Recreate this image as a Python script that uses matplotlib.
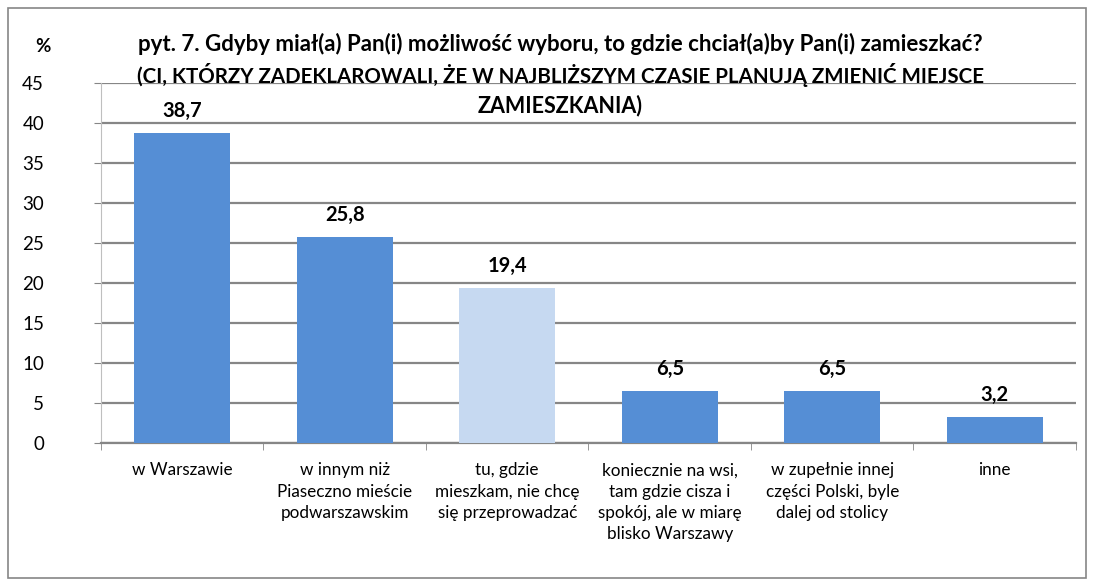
import numpy as np
import matplotlib.pyplot as plt
from matplotlib.patches import Rectangle

plt.rcParams['font.family'] = ['Lato', 'DejaVu Sans']

categories = ['w Warszawie',
              'w innym niż\nPiaseczno mieście\npodwarszawskim',
              'tu, gdzie\nmieszkam, nie chcę\nsię przeprowadzać',
              'koniecznie na wsi,\ntam gdzie cisza i\nspokój, ale w miarę\nblisko Warszawy',
              'w zupełnie innej\nczęści Polski, byle\ndalej od stolicy',
              'inne']
values = [38.7, 25.8, 19.4, 6.5, 6.5, 3.2]
value_labels = ['38,7', '25,8', '19,4', '6,5', '6,5', '3,2']
bar_colors = ['#558ED5', '#558ED5', '#C6D9F1', '#558ED5', '#558ED5', '#558ED5']
yticks = [0, 5, 10, 15, 20, 25, 30, 35, 40, 45]

title_lines = ['pyt. 7. Gdyby miał(a) Pan(i) możliwość wyboru, to gdzie chciał(a)by Pan(i) zamieszkać?',
               '(CI, KTÓRZY ZADEKLAROWALI, ŻE W NAJBLIŻSZYM CZASIE PLANUJĄ ZMIENIĆ MIEJSCE',
               'ZAMIESZKANIA)']
title_sizes = [16, 14.8, 15.5]

fig = plt.figure(figsize=(10.94, 5.82), dpi=100)
ax = fig.add_axes([0.0923, 0.2388, 0.8912, 0.6186])

x = np.arange(len(values))
ax.bar(x, values, width=0.59, color=bar_colors, zorder=3)
for xi, v, lab in zip(x, values, value_labels):
    ax.text(xi, v + 1.5, lab, ha='center', va='bottom', fontsize=14.5,
            fontweight='bold', zorder=4)

ax.set_xlim(-0.5, len(values) - 0.5)
ax.set_ylim(0, 45)
ax.set_yticks(yticks)
ax.set_yticklabels([str(t) for t in yticks], fontsize=13.5)
ax.yaxis.grid(True, color='#868686', linewidth=1.6, zorder=0)
ax.set_axisbelow(True)

# category labels under the bars, ticks at category boundaries
ax.set_xticks(x)
ax.set_xticklabels(categories, fontsize=12.3, linespacing=1.4, va='top')
ax.tick_params(axis='x', length=0, pad=14)
ax.set_xticks(np.arange(len(values) + 1) - 0.5, minor=True)
ax.tick_params(axis='x', which='minor', length=5, color='#868686')
ax.tick_params(axis='y', length=5, color='#868686', pad=36)

for s in ['top', 'right']:
    ax.spines[s].set_visible(False)
ax.spines['left'].set_color('#BFBFBF')
ax.spines['bottom'].set_color('#868686')
ax.spines['bottom'].set_linewidth(1.6)

for i, (line, size) in enumerate(zip(title_lines, title_sizes)):
    fig.text(0.512, 1 - (44 + 31 * i) / 582, line, ha='center', va='center',
             fontsize=size, fontweight='bold')
fig.text(0.039, 1 - 47 / 582, '%', ha='center', va='center', fontsize=13.5, fontweight='bold')

fig.patches.append(Rectangle((0.007, 0.007), 0.986, 0.979, transform=fig.transFigure,
                             fill=False, edgecolor='#868686', linewidth=1.2))

fig.savefig('out.png', dpi=100)
